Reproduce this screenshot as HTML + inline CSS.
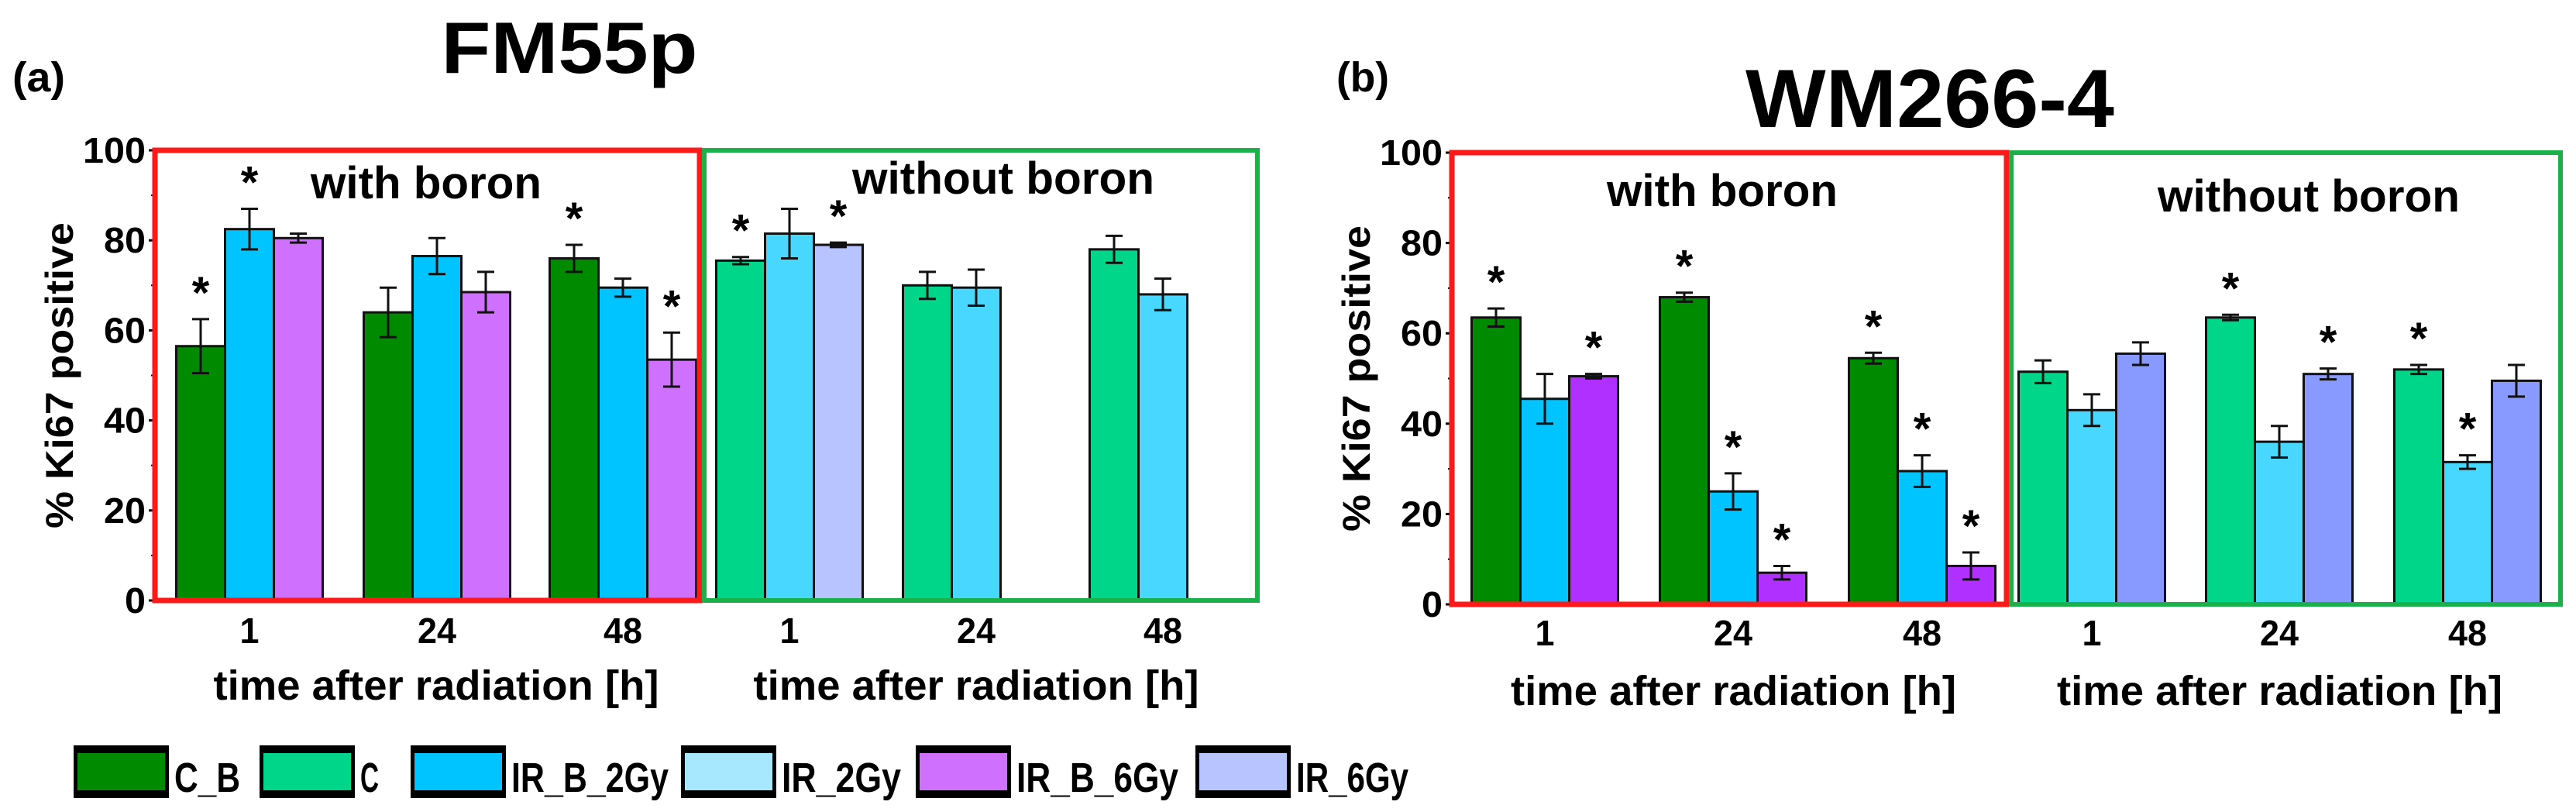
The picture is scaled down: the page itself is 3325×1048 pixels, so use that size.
<!DOCTYPE html>
<html><head><meta charset="utf-8">
<style>
html,body{margin:0;padding:0;background:#fff;}
svg{display:block;}
text{font-family:"Liberation Sans",sans-serif;font-weight:bold;fill:#000;}
</style></head>
<body>
<svg id="chart" width="3325" height="1048" viewBox="0 0 3325 1048" xmlns="http://www.w3.org/2000/svg">
<g id="gA"></g>
<g id="gB"></g>
<g id="legend"></g>
</svg>
<script>
const groups = ["1","24","48"];
const yTicks = [0,20,40,60,80,100];
// Panel a (FM55p)
const aCB = [56.5,64,76], aCBe=[6,5.5,3];
const aIRB2 = [82.5,76.5,69.5], aIRB2e=[4.5,4,2];
const aIRB6 = [80.5,68.5,53.5], aIRB6e=[1,4.5,6];
const aC = [75.5,70,78], aCe=[0.8,3,3];
const aIR2 = [81.5,69.5,68], aIR2e=[5.5,4,3.5];
const aIR6 = [79,null,null], aIR6e=[0.5,0,0];
const aStarsWith = [[true,true,false],[false,false,false],[true,false,true]];
const aStarsWithout = [[true,false,true],[false,false,false],[false,false,false]];
// Panel b (WM266-4)
const bCB = [63.5,68,54.5], bCBe=[2,1,1.2];
const bIRB2 = [45.5,25,29.5], bIRB2e=[5.5,4,3.5];
const bIRB6 = [50.5,7,8.5], bIRB6e=[0.5,1.5,3];
const bC = [51.5,63.5,52], bCe=[2.5,0.6,1];
const bIR2 = [43,36,31.5], bIR2e=[3.5,3.5,1.5];
const bIR6 = [55.5,51,49.5], bIR6e=[2.5,1.2,3.5];
const bStarsWith = [[true,false,true],[true,true,true],[true,true,true]];
const bStarsWithout = [[false,false,false],[true,false,true],[true,true,false]];
const legendLabels = ["C_B","C","IR_B_2Gy","IR_2Gy","IR_B_6Gy","IR_6Gy"];
const legendColors = ["#008a00","#00d68a","#00c4ff","#a8e8ff","#d070ff","#b8c4ff"];

const NS="http://www.w3.org/2000/svg";
function mk(parent,tag,attrs,txt){const e=document.createElementNS(NS,tag);for(const k in attrs)e.setAttribute(k,attrs[k]);if(txt!==undefined)e.textContent=txt;parent.appendChild(e);return e;}
function fit(e,len){e.setAttribute('textLength',len);e.setAttribute('lengthAdjust','spacingAndGlyphs');}

function panel(g,cfg){
  const y=v=>cfg.y0+(cfg.y100-cfg.y0)*v/100;
  yTicks.forEach(t=>{
    const s=String(t);
    const tl=mk(g,'text',{x:cfg.left-12,y:y(t)+16,'text-anchor':'end','font-size':46},s);
    fit(tl,s.length*27);
    
    
    mk(g,'line',{x1:cfg.left-8,x2:cfg.left,y1:y(t),y2:y(t),stroke:'#000','stroke-width':3});
    if(t<100) mk(g,'line',{x1:cfg.left-5,x2:cfg.left,y1:y(t+10),y2:y(t+10),stroke:'#000','stroke-width':2});
  });
  mk(g,'line',{x1:cfg.left,x2:cfg.left,y1:y(100),y2:y(0),stroke:'#000','stroke-width':3});
  const yt=mk(g,'text',{x:0,y:0,'text-anchor':'middle','font-size':50,'transform':`translate(${cfg.left-106},${(y(0)+y(100))/2}) rotate(-90)`},'% Ki67 positive');
  fit(yt,395);
  
  
  const sets=[{centers:cfg.withC,series:cfg.withS,stars:cfg.withStars},{centers:cfg.woC,series:cfg.woS,stars:cfg.woStars}];
  const bw=63;
  sets.forEach((s)=>{
    s.centers.forEach((cx,gi)=>{
      s.series.forEach((ser,k)=>{
        const v=ser.v[gi]; if(v===null||v===undefined) return;
        const x=cx+(k-1.5)*bw;
        const r=mk(g,'rect',{x:x,y:y(v),width:bw,height:y(0)-y(v),fill:ser.c,stroke:'#111','stroke-width':3});
        
        
        const e=ser.e[gi], mx=x+bw/2;
        mk(g,'line',{x1:mx,x2:mx,y1:y(v+e),y2:y(v-e),stroke:'#111','stroke-width':3});
        mk(g,'line',{x1:mx-11,x2:mx+11,y1:y(v+e),y2:y(v+e),stroke:'#111','stroke-width':3});
        mk(g,'line',{x1:mx-11,x2:mx+11,y1:y(v-e),y2:y(v-e),stroke:'#111','stroke-width':3});
        if(s.stars[gi][k]){
          const st=mk(g,'text',{x:mx,y:y(v+e)-14,'text-anchor':'middle','font-size':58},'*');
          
          
        }
      });
      const tl=mk(g,'text',{x:cx,y:cfg.tickY,'text-anchor':'middle','font-size':46},groups[gi]);
      fit(tl,groups[gi].length*25);
      
      
    });
    const mid=(s.centers[0]+s.centers[2])/2;
    const xl=mk(g,'text',{x:mid,y:cfg.xlabY,'text-anchor':'middle','font-size':54},'time after radiation [h]');
    fit(xl,575);
    
    
  });
  const rb=mk(g,'rect',{x:cfg.left,y:y(100),width:cfg.redR-cfg.left,height:y(0)-y(100),fill:'none',stroke:'#ff1a1a','stroke-width':7});
  
  
  const gb=mk(g,'rect',{x:cfg.redR+6,y:y(100),width:cfg.greenR-cfg.redR-6,height:y(0)-y(100),fill:'none',stroke:'#1ab04a','stroke-width':6});
  
  
  const w1=mk(g,'text',{x:cfg.wbX,y:cfg.wbY,'text-anchor':'middle','font-size':58},'with boron');
  fit(w1,298);
  
  
  const w2=mk(g,'text',{x:cfg.wobX,y:cfg.wobY,'text-anchor':'middle','font-size':58},'without boron');
  fit(w2,390);
  
  
  const tt=mk(g,'text',{x:cfg.titleX,y:cfg.titleY,'text-anchor':'middle','font-size':cfg.titleFS},cfg.title);
  fit(tt,cfg.titleW);
  
  
  const pl=mk(g,'text',{x:cfg.letX,y:cfg.letY,'font-size':54},cfg.letter);
  fit(pl,68);
  
  
}

panel(document.getElementById('gA'),{
  left:200,redR:903,greenR:1623,y0:775,y100:194,tickY:830,xlabY:903,
  withC:[322,564,804],woC:[1019,1260,1501],
  withS:[{n:'c-b',v:aCB,e:aCBe,c:'#008a00'},{n:'ir-b-2gy',v:aIRB2,e:aIRB2e,c:'#00c4ff'},{n:'ir-b-6gy',v:aIRB6,e:aIRB6e,c:'#d070ff'}],
  woS:[{n:'c',v:aC,e:aCe,c:'#00d68a'},{n:'ir-2gy',v:aIR2,e:aIR2e,c:'#48d8ff'},{n:'ir-6gy',v:aIR6,e:aIR6e,c:'#b8c4ff'}],
  withStars:aStarsWith,woStars:aStarsWithout,
  wbX:550,wbY:256,wobX:1295,wobY:250,title:'FM55p',titleX:735,titleY:94,titleFS:94,titleW:331,letter:'(a)',letX:16,letY:118
});
panel(document.getElementById('gB'),{
  left:1874,redR:2590,greenR:3305,y0:780,y100:197,tickY:833,xlabY:910,
  withC:[1994,2237,2481],woC:[2700,2942,3185],
  withS:[{n:'c-b',v:bCB,e:bCBe,c:'#008a00'},{n:'ir-b-2gy',v:bIRB2,e:bIRB2e,c:'#00c4ff'},{n:'ir-b-6gy',v:bIRB6,e:bIRB6e,c:'#b030ff'}],
  woS:[{n:'c',v:bC,e:bCe,c:'#00d68a'},{n:'ir-2gy',v:bIR2,e:bIR2e,c:'#48d8ff'},{n:'ir-6gy',v:bIR6,e:bIR6e,c:'#8899ff'}],
  withStars:bStarsWith,woStars:bStarsWithout,
  wbX:2223,wbY:266,wobX:2980,wobY:273,title:'WM266-4',titleX:2491,titleY:164,titleFS:107,titleW:476,letter:'(b)',letX:1725,letY:118
});

const lg=document.getElementById('legend');
const lgX=[95,335,530,879,1182,1543];
const lgW=[85,24,203,154,209,145];
legendLabels.forEach((lab,i)=>{
  const it=mk(lg,'g',{});
  
  
  mk(it,'rect',{x:lgX[i],y:962,width:123,height:68,fill:'#000'});
  mk(it,'rect',{x:lgX[i]+5,y:972,width:113,height:48,fill:legendColors[i]});
  const t=mk(it,'text',{x:lgX[i]+130,y:1022,'font-size':54},lab);
  fit(t,lgW[i]);
});
</script>
</body></html>
